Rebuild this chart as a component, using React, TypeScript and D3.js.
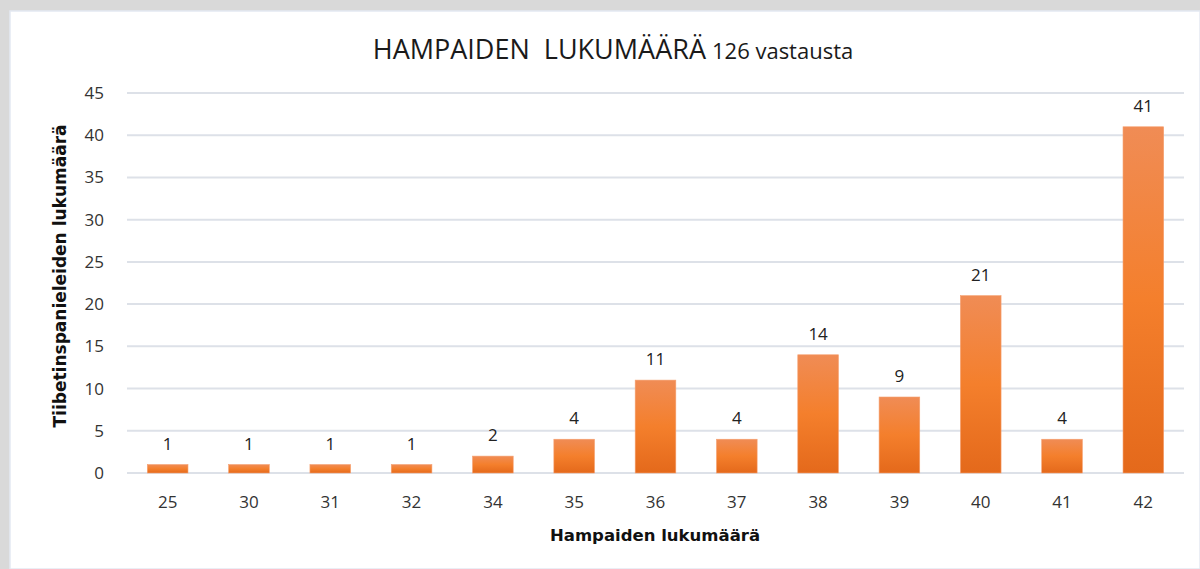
import React from "react";
import * as d3 from "d3";

const categories = ["25", "30", "31", "32", "34", "35", "36", "37", "38", "39", "40", "41", "42"];
const values = [1, 1, 1, 1, 2, 4, 11, 4, 14, 9, 21, 4, 41];
const yTicks = [0, 5, 10, 15, 20, 25, 30, 35, 40, 45];
const titleWords = ["HAMPAIDEN", "LUKUMÄÄRÄ"];
const titleSub = "126 vastausta";
const xTitle = "Hampaiden lukumäärä";
const yTitle = "Tiibetinspanieleiden lukumäärä";

export default function App() {
  const W = 1200, H = 569;
  const left = 127, right = 1184, top = 93, bottom = 473;
  const x = d3.scaleBand().domain(categories).range([left, right]).paddingInner(0.5).paddingOuter(0.25);
  const y = d3.scaleLinear().domain([0, 45]).range([bottom, top]);
  const font = "Open Sans, Noto Sans, sans-serif";
  const boldFont = "DejaVu Sans, Verdana, sans-serif";
  return (
    <svg width={W} height={H} style={{ position: "absolute", left: 0, top: 0 }}>
      <defs>
        <linearGradient id="barg" x1="0" y1="0" x2="0" y2="1">
          <stop offset="0%" stopColor="#f08c55" />
          <stop offset="50%" stopColor="#f47f2c" />
          <stop offset="100%" stopColor="#e4691b" />
        </linearGradient>
      </defs>
      <rect x={0} y={0} width={W} height={H} fill="#d9d9d9" />
      <rect x={10} y={11} width={W - 10} height={H - 11} fill="#ffffff" stroke="#e4e9f2" strokeWidth={1.5} />
      {yTicks.map((t) => (
        <g key={t}>
          <line x1={left} x2={right} y1={y(t)} y2={y(t)} stroke="#dde1e8" strokeWidth={2} />
          <text x={104} y={y(t)} dy="0.35em" textAnchor="end" fontSize={17} fill="#333" fontFamily={font}>{t}</text>
        </g>
      ))}
      {categories.map((c, i) => {
        const bx = x(c)!;
        const bw = x.bandwidth();
        return (
          <g key={c}>
            <rect x={bx} y={y(values[i])} width={bw} height={y(0) - y(values[i])} fill="url(#barg)" stroke="#f5a070" strokeWidth={0.6} />
            <text x={bx + bw / 2} y={y(values[i]) - 15} textAnchor="middle" fontSize={17} fill="#222" fontFamily={font}>{values[i]}</text>
            <text x={bx + bw / 2} y={502} dy="0.35em" textAnchor="middle" fontSize={17} fill="#333" fontFamily={font}>{c}</text>
          </g>
        );
      })}
      <text x={613} y={59} textAnchor="middle" fontFamily={font} fill="#1a1a1a">
        <tspan fontSize={27}>{titleWords[0]}</tspan>
        <tspan fontSize={27} dx={14}>{titleWords[1]}</tspan>
        <tspan fontSize={22} dx={6}>{titleSub}</tspan>
      </text>
      <text x={655} y={535} dy="0.35em" textAnchor="middle" fontSize={16.5} fontWeight="bold" fill="#111" fontFamily={boldFont}>{xTitle}</text>
      <text transform={`translate(60,276) rotate(-90)`} dy="0.35em" textAnchor="middle" fontSize={17} fontWeight="bold" fill="#111" fontFamily={boldFont}>{yTitle}</text>
    </svg>
  );
}
